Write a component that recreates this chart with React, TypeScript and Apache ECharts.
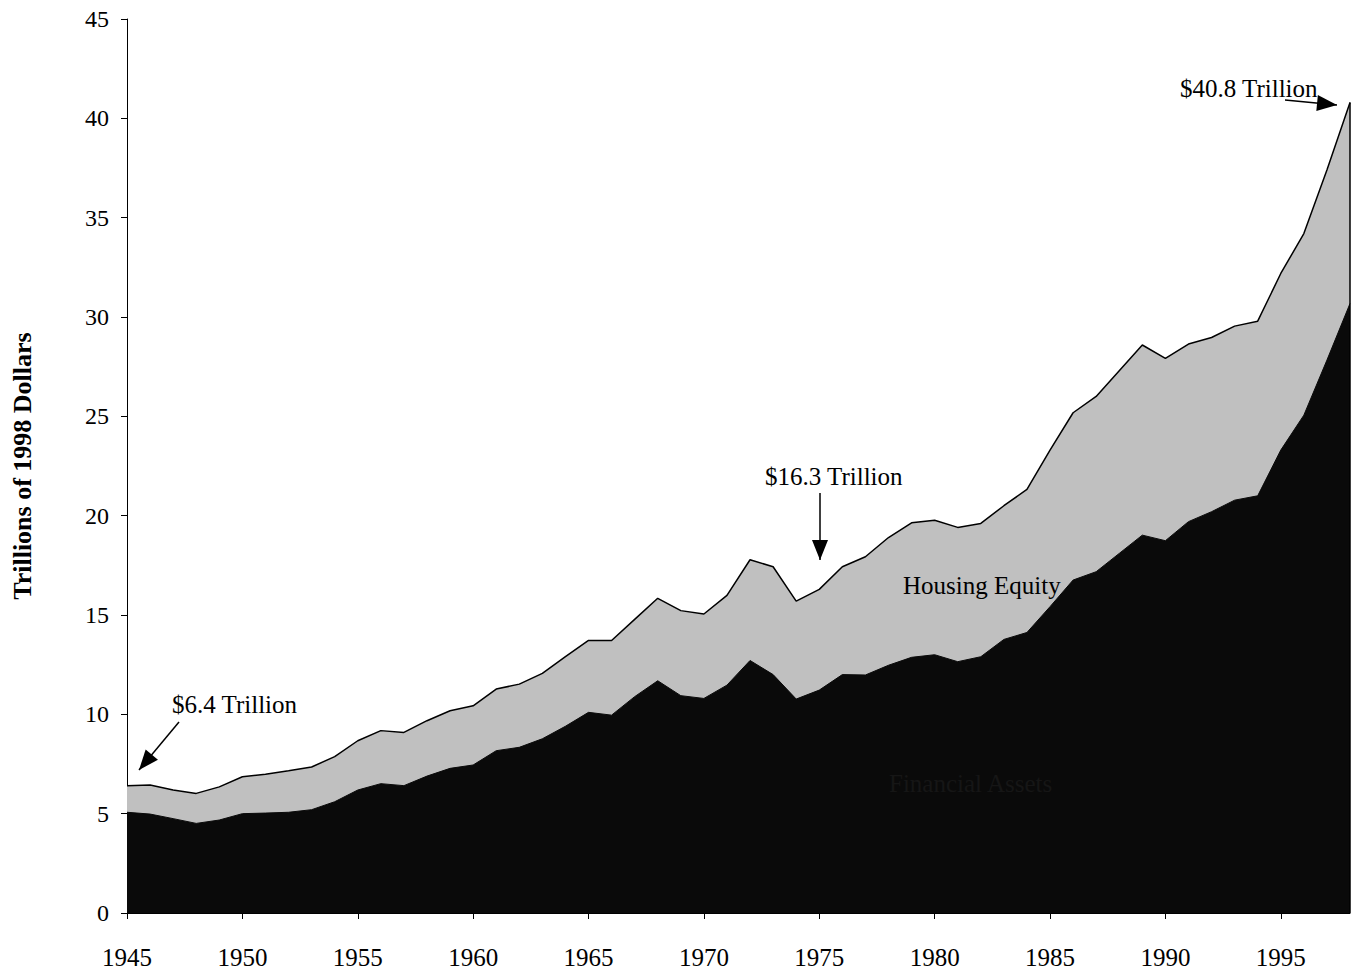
import React, { useEffect, useRef } from "react";
import * as echarts from "echarts";

const years: string[] = [];
for (let y = 1945; y <= 1998; y++) years.push(String(y));

const totalWealth = [
  6.4, 6.44, 6.19, 6.02, 6.35, 6.86, 6.98, 7.16, 7.35, 7.87,
  8.67, 9.18, 9.09, 9.68, 10.18, 10.43, 11.27, 11.52, 12.06, 12.9,
  13.72, 13.72, 14.78, 15.84, 15.22, 15.05, 15.99, 17.78, 17.43, 15.7,
  16.29, 17.43, 17.93, 18.9, 19.64, 19.77, 19.41, 19.61, 20.5, 21.32,
  23.3, 25.18, 26.0, 27.3, 28.59, 27.92, 28.64, 28.97, 29.54, 29.79,
  32.19, 34.2, 37.4, 40.8,
];

const financialAssets = [
  5.07, 4.98, 4.75, 4.51, 4.68, 5.0, 5.03, 5.07, 5.2, 5.6,
  6.19, 6.51, 6.41, 6.89, 7.28, 7.45, 8.17, 8.34, 8.77, 9.4,
  10.1, 9.96, 10.89, 11.69, 10.94, 10.8, 11.47, 12.71, 12.0, 10.77,
  11.22, 12.0, 11.98, 12.47, 12.87, 13.0, 12.65, 12.9, 13.77, 14.12,
  15.42, 16.76, 17.18, 18.1, 19.02, 18.74, 19.7, 20.2, 20.78, 21.0,
  23.3, 25.06, 27.83, 30.68,
];

const FONT = "'Liberation Serif', 'Times New Roman', serif";

export default function App() {
  const ref = useRef<HTMLDivElement>(null);
  useEffect(() => {
    if (!ref.current) return;
    const chart = echarts.init(ref.current, undefined, { renderer: "svg" });
    const arrowHead = (tip: number[], from: number[], len = 20, half = 8) => {
      const dx = tip[0] - from[0];
      const dy = tip[1] - from[1];
      const d = Math.sqrt(dx * dx + dy * dy);
      const ux = dx / d, uy = dy / d;
      const bx = tip[0] - ux * len, by = tip[1] - uy * len;
      return [
        [tip[0], tip[1]],
        [bx - uy * half, by + ux * half],
        [bx + uy * half, by - ux * half],
      ];
    };
    const arrow = (from: number[], tip: number[]) => [
      {
        type: "line",
        shape: { x1: from[0], y1: from[1], x2: tip[0], y2: tip[1] },
        style: { stroke: "#000", lineWidth: 1.5 },
        z: 100,
      },
      {
        type: "polygon",
        shape: { points: arrowHead(tip, from) },
        style: { fill: "#000" },
        z: 100,
      },
    ];
    const label = (text: string, x: number, y: number, color = "#000") => ({
      type: "text",
      x,
      y,
      z: 100,
      style: {
        text,
        fill: color,
        font: `25px ${FONT}`,
        textVerticalAlign: "middle",
      },
    });
    const lastYear = years[years.length - 1];
    const lastTotal = totalWealth[totalWealth.length - 1];
    chart.setOption({
      animation: false,
      backgroundColor: "#fff",
      grid: { left: 127, right: 1, top: 19, bottom: 60 },
      xAxis: {
        type: "category",
        data: years,
        boundaryGap: false,
        axisLine: { show: true, lineStyle: { color: "#000", width: 1 } },
        axisTick: {
          show: true,
          length: 6,
          interval: (i: number) => i % 5 === 0,
          lineStyle: { color: "#000" },
        },
        axisLabel: {
          interval: (i: number) => i % 5 === 0,
          color: "#000",
          fontFamily: FONT,
          fontSize: 25,
          margin: 32,
        },
        splitLine: { show: false },
      },
      yAxis: {
        type: "value",
        min: 0,
        max: 45,
        interval: 5,
        name: "Trillions of 1998 Dollars",
        nameLocation: "middle",
        nameGap: 92,
        nameTextStyle: {
          color: "#000",
          fontFamily: FONT,
          fontSize: 26,
          fontWeight: "bold",
        },
        axisLine: { show: true, lineStyle: { color: "#000", width: 1 } },
        axisTick: { show: true, length: 6, lineStyle: { color: "#000" } },
        axisLabel: {
          color: "#000",
          fontFamily: FONT,
          fontSize: 24,
          margin: 18,
        },
        splitLine: { show: false },
      },
      series: [
        {
          name: "Housing Equity",
          type: "line",
          data: totalWealth,
          symbol: "none",
          lineStyle: { color: "#000", width: 1.5 },
          areaStyle: { color: "#c0c0c0", opacity: 1 },
          z: 2,
          markLine: {
            silent: true,
            symbol: "none",
            label: { show: false },
            lineStyle: { color: "#000", width: 1.5, type: "solid" },
            data: [[{ coord: [lastYear, 0] }, { coord: [lastYear, lastTotal] }]],
          },
        },
        {
          name: "Financial Assets",
          type: "line",
          data: financialAssets,
          symbol: "none",
          lineStyle: { color: "#0a0a0a", width: 1 },
          areaStyle: { color: "#0a0a0a", opacity: 1 },
          z: 3,
        },
      ],
      graphic: [
        label("$6.4 Trillion", 172, 704),
        ...arrow([179, 722], [139, 770]),
        label("$16.3 Trillion", 765, 476),
        ...arrow([820, 493], [820, 560]),
        label("$40.8 Trillion", 1180, 88),
        ...arrow([1285, 100], [1337, 105]),
        label("Housing Equity", 903, 585),
        label("Financial Assets", 889, 783, "#161616"),
      ],
    });
    return () => chart.dispose();
  }, []);
  return (
    <div
      ref={ref}
      style={{ position: "absolute", left: 0, top: 0, width: 1351, height: 973 }}
    />
  );
}
